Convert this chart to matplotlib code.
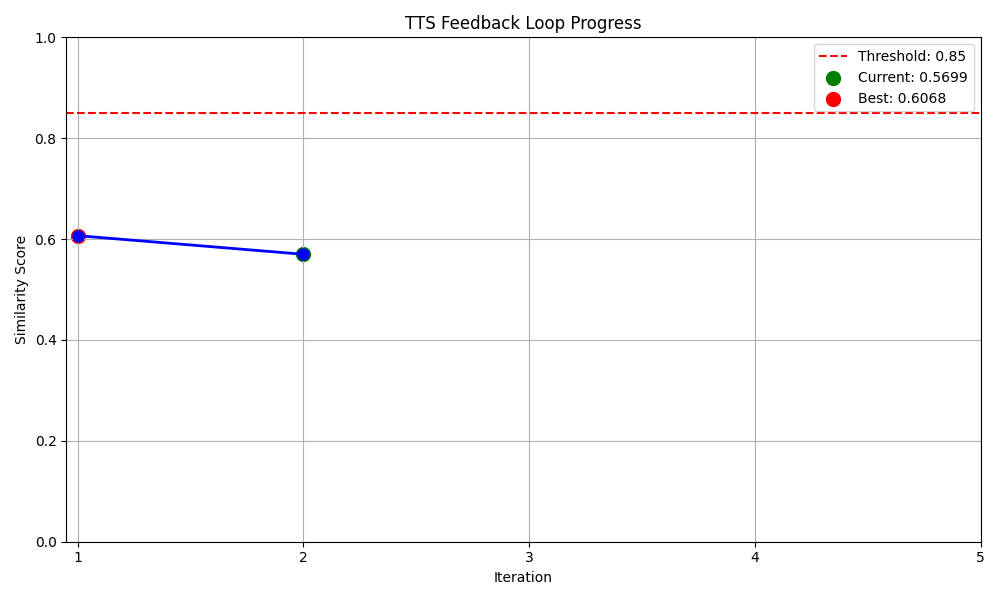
import matplotlib
matplotlib.use("Agg")
import matplotlib.pyplot as plt

iterations = [1, 2]
scores = [0.6068, 0.5699]
threshold = 0.85
current_iter = 2
current_score = 0.5699
best_iter = 1
best_score = 0.6068
xticks = [1, 2, 3, 4, 5]

fig, ax = plt.subplots(figsize=(10, 6), dpi=100)
ax.axhline(y=threshold, color='r', linestyle='--', label=f'Threshold: {threshold}')
ax.scatter([current_iter], [current_score], color='green', s=100, label=f'Current: {current_score:.4f}')
ax.scatter([best_iter], [best_score], color='red', s=100, label=f'Best: {best_score:.4f}')
ax.plot(iterations, scores, 'bo-', linewidth=2, markersize=8)
ax.set_xlabel('Iteration')
ax.set_ylabel('Similarity Score')
ax.set_title('TTS Feedback Loop Progress')
ax.set_ylim(0, 1)
ax.set_xlim(0.95, 5)
ax.set_xticks(xticks)
ax.grid(True)
ax.legend(loc='upper right')
fig.tight_layout()
fig.savefig('out.png')
